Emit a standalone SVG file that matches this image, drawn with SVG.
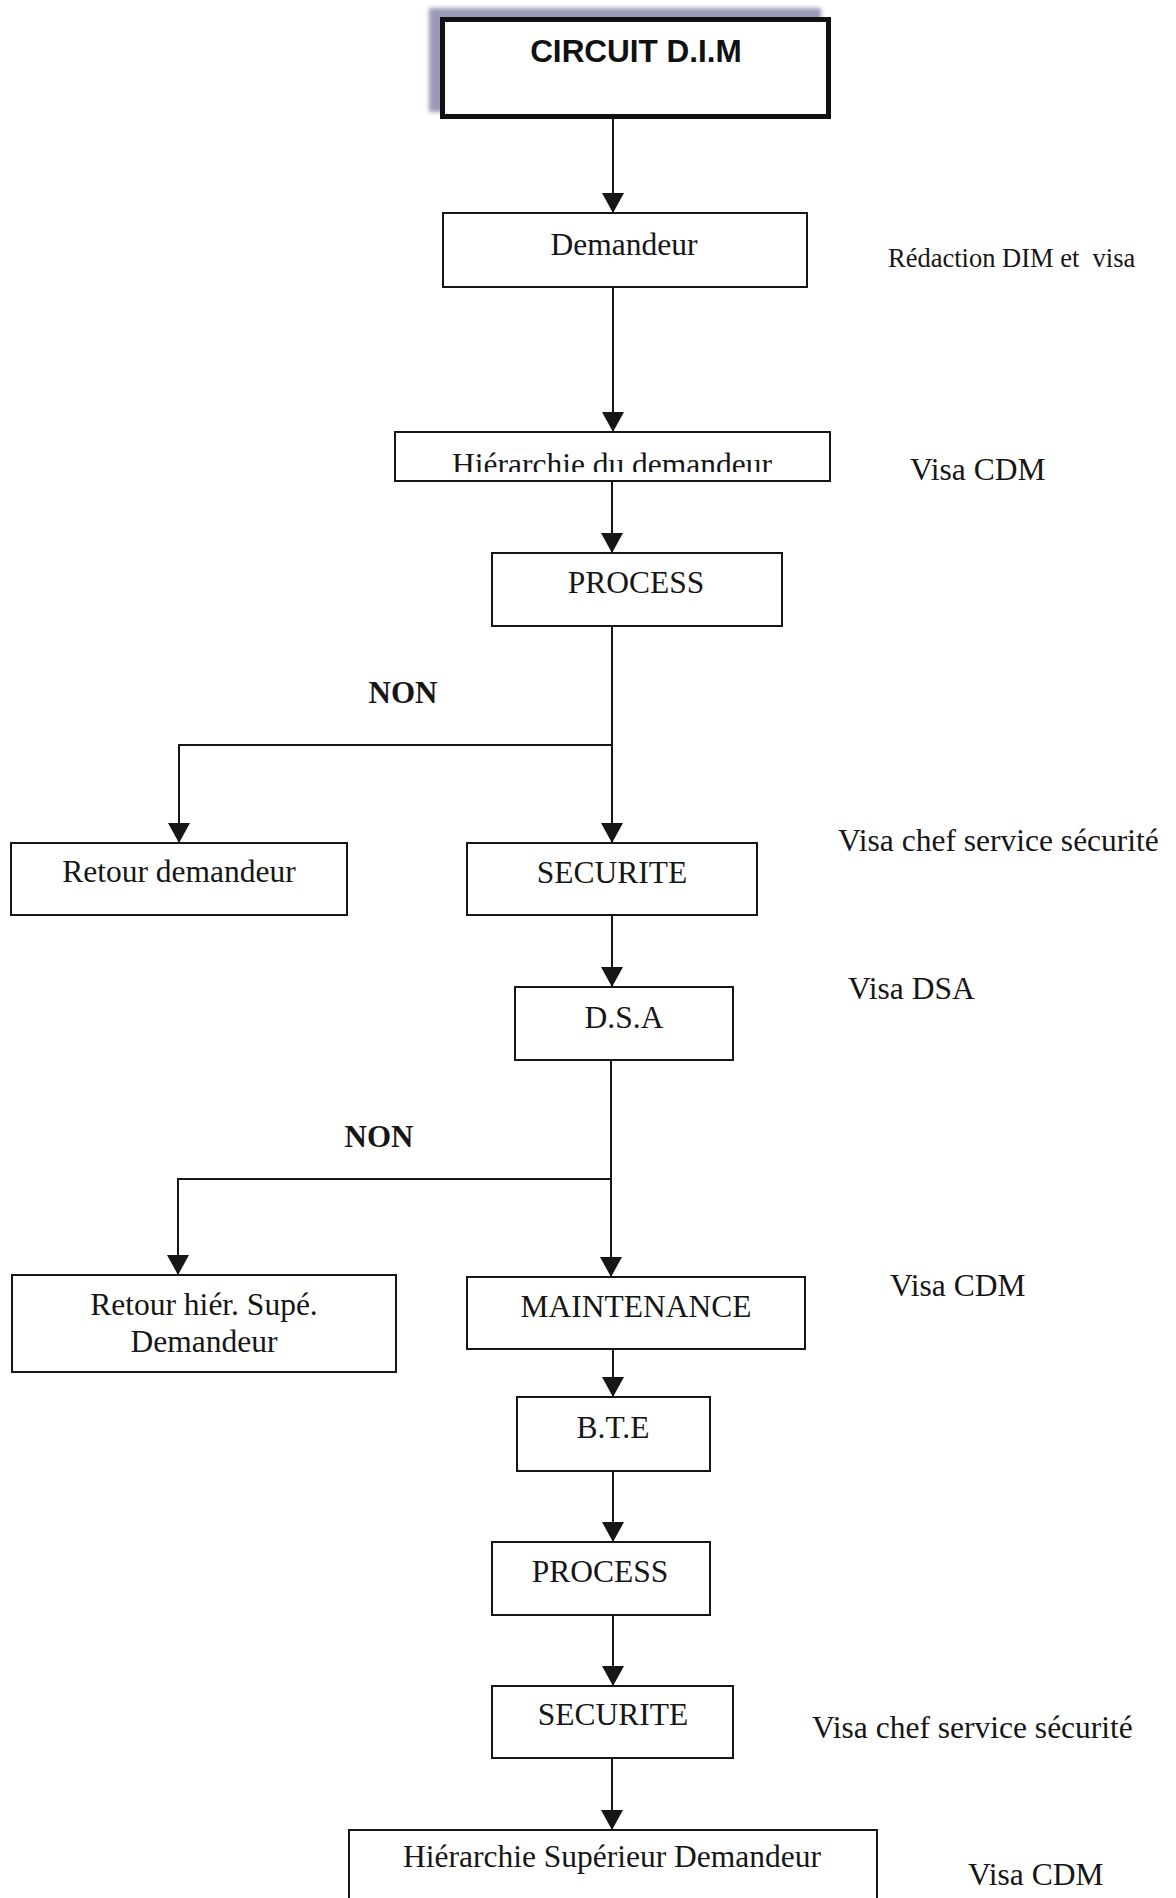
<svg xmlns="http://www.w3.org/2000/svg" width="1176" height="1898" viewBox="0 0 1176 1898">
  <style>
    .box { fill: #ffffff; stroke: #161616; stroke-width: 2; }
    .t { font-family: "Liberation Serif", "Times New Roman", serif; font-size: 31.5px; fill: #161616; text-anchor: middle; }
    .lbl { font-family: "Liberation Serif", "Times New Roman", serif; font-size: 31.5px; fill: #161616; }
    .non { font-family: "Liberation Serif", "Times New Roman", serif; font-size: 31px; font-weight: bold; fill: #161616; text-anchor: middle; }
    .conn { stroke: #161616; stroke-width: 2; fill: none; marker-end: url(#arrow); }
  </style>
  <defs>
    <marker id="arrow" markerUnits="userSpaceOnUse" markerWidth="20" markerHeight="22" refX="20" refY="11" orient="auto">
      <path d="M0,0 L20,11 L0,22 z" fill="#161616"/>
    </marker>
    <filter id="blur" x="-10%" y="-10%" width="120%" height="120%">
      <feGaussianBlur stdDeviation="2"/>
    </filter>
    <clipPath id="clipHier">
      <rect x="396" y="433" width="433" height="39"/>
    </clipPath>
  </defs>
  <rect width="1176" height="1898" fill="#ffffff"/>

  <g id="node-circuit">
    <rect x="429" y="8" width="392" height="104" fill="#9a9ab8" filter="url(#blur)"/>
    <rect x="442.5" y="19.5" width="386" height="97" fill="#ffffff" stroke="#111111" stroke-width="5"/>
    <text x="636" y="62" style="font-family:'Liberation Sans',Arial,sans-serif;font-size:31.5px;font-weight:bold;fill:#111;text-anchor:middle">CIRCUIT D.I.M</text>
  </g>

  <g id="node-demandeur">
    <rect class="box" x="443" y="213" width="364" height="74"/>
    <text class="t" x="624" y="255">Demandeur</text>
  </g>

  <g id="node-hierarchie">
    <rect class="box" x="395" y="432" width="435" height="49"/>
    <text class="t" x="612" y="474.5" clip-path="url(#clipHier)">Hiérarchie du demandeur</text>
  </g>

  <g id="node-process1">
    <rect class="box" x="492" y="553" width="290" height="73"/>
    <text class="t" x="636" y="593">PROCESS</text>
  </g>

  <g id="node-retour-demandeur">
    <rect class="box" x="11" y="843" width="336" height="72"/>
    <text class="t" x="179" y="882">Retour demandeur</text>
  </g>

  <g id="node-securite1">
    <rect class="box" x="467" y="843" width="290" height="72"/>
    <text class="t" x="612" y="883">SECURITE</text>
  </g>

  <g id="node-dsa">
    <rect class="box" x="515" y="987" width="218" height="73"/>
    <text class="t" x="624" y="1028">D.S.A</text>
  </g>

  <g id="node-retour-hier">
    <rect class="box" x="12" y="1275" width="384" height="97"/>
    <text class="t" x="204" y="1315">Retour hiér. Supé.</text>
    <text class="t" x="204" y="1352">Demandeur</text>
  </g>

  <g id="node-maintenance">
    <rect class="box" x="467" y="1277" width="338" height="72"/>
    <text class="t" x="636" y="1317">MAINTENANCE</text>
  </g>

  <g id="node-bte">
    <rect class="box" x="517" y="1397" width="193" height="74"/>
    <text class="t" x="613" y="1438">B.T.E</text>
  </g>

  <g id="node-process2">
    <rect class="box" x="492" y="1542" width="218" height="73"/>
    <text class="t" x="600" y="1582">PROCESS</text>
  </g>

  <g id="node-securite2">
    <rect class="box" x="492" y="1686" width="241" height="72"/>
    <text class="t" x="613" y="1725">SECURITE</text>
  </g>

  <g id="node-hier-sup">
    <rect class="box" x="349" y="1830" width="528" height="90"/>
    <text class="t" x="612" y="1867">Hiérarchie Supérieur Demandeur</text>
  </g>

  <g id="connectors">
    <path class="conn" d="M613,119 V213"/>
    <path class="conn" d="M613,287 V432"/>
    <path class="conn" d="M612,481 V553"/>
    <path class="conn" d="M612,626 V843"/>
    <path class="conn" d="M612,745 H179 V843"/>
    <path class="conn" d="M612,915 V987"/>
    <path class="conn" d="M611,1060 V1277"/>
    <path class="conn" d="M611,1179 H178 V1275"/>
    <path class="conn" d="M613,1349 V1397"/>
    <path class="conn" d="M613,1471 V1542"/>
    <path class="conn" d="M613,1615 V1686"/>
    <path class="conn" d="M612,1758 V1830"/>
    <text class="non" x="403" y="703">NON</text>
    <text class="non" x="379" y="1147">NON</text>
  </g>

  <g id="annotations">
    <text class="lbl" x="888" y="266.5" style="font-size:26.5px" xml:space="preserve">Rédaction DIM et  visa</text>
    <text class="lbl" x="910" y="480">Visa CDM</text>
    <text class="lbl" x="838" y="851">Visa chef service sécurité</text>
    <text class="lbl" x="848" y="999">Visa DSA</text>
    <text class="lbl" x="890" y="1296">Visa CDM</text>
    <text class="lbl" x="812" y="1738">Visa chef service sécurité</text>
    <text class="lbl" x="968" y="1885">Visa CDM</text>
  </g>
</svg>
